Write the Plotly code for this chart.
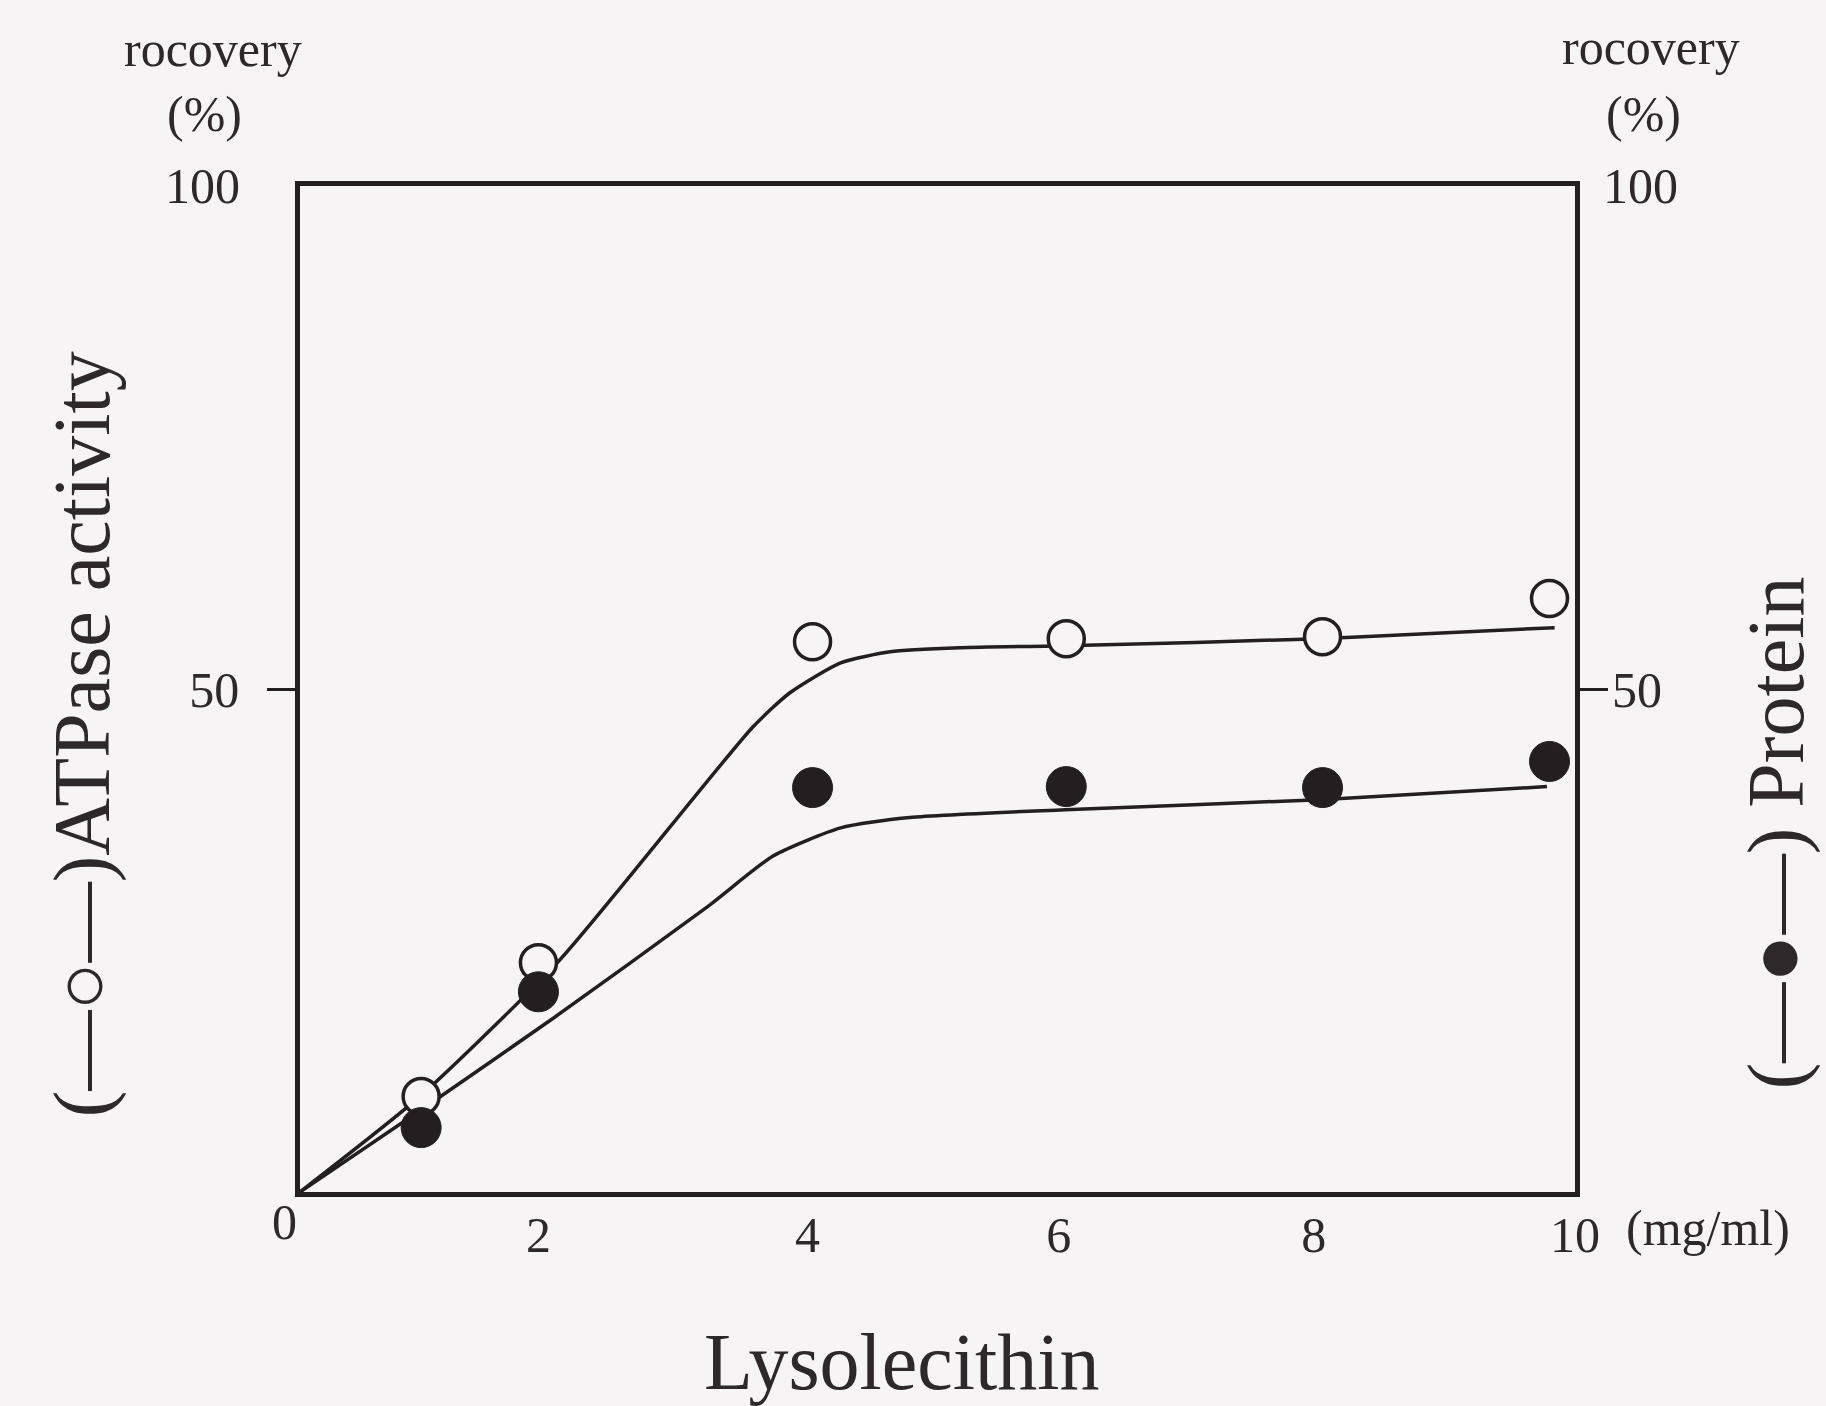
import plotly.graph_objects as go

# Lysolecithin concentration (mg/ml) at which each sample was measured
lyso_conc = [0.95, 1.87, 4.02, 6.01, 8.02, 9.80]
# Recovery (%) of ATPase activity (open circles) and of protein (filled circles)
atpase_recovery = [9.5, 22.8, 54.7, 55.0, 55.2, 59.0]
protein_recovery = [6.4, 19.9, 40.2, 40.3, 40.2, 42.8]

# Hand-drawn fitted curves through the data
atpase_fit_x = [0, 0.95, 2.04, 3.55, 3.84, 4.24, 4.63, 5.18, 6.0, 8.0, 9.84]
atpase_fit_y = [0, 9.6, 23.1, 46.2, 49.6, 52.6, 53.7, 54.1, 54.3, 55.0, 56.1]
protein_fit_x = [0, 1.0, 2.0, 3.2, 3.71, 4.24, 4.76, 6.0, 8.0, 9.78]
protein_fit_y = [0, 8.6, 17.4, 28.4, 33.4, 36.2, 37.2, 38.0, 39.0, 40.3]

# Axis tick positions and labels (the origin label is placed separately)
x_tickvals = [1.87, 3.98, 5.95, 7.95, 10]
x_ticktext = ["2", "4", "6", "8", "10"]
y_tickvals = [50]
y_ticktext = ["50"]

BG = "#f6f4f5"
INK = "#241e20"
TXT = "#2f282b"
FONT = "Liberation Serif"

fig = go.Figure()

for fx, fy in ((atpase_fit_x, atpase_fit_y), (protein_fit_x, protein_fit_y)):
    fig.add_trace(go.Scatter(
        x=fx, y=fy, mode="lines",
        line=dict(color=INK, width=3.5, shape="spline", smoothing=0.6),
        hoverinfo="skip", showlegend=False))

fig.add_trace(go.Scatter(
    x=lyso_conc, y=atpase_recovery, mode="markers", name="ATPase activity",
    marker=dict(symbol="circle", size=36, color=BG,
                line=dict(color=INK, width=3.5)),
    showlegend=False))
fig.add_trace(go.Scatter(
    x=lyso_conc, y=protein_recovery, mode="markers", name="Protein",
    marker=dict(symbol="circle", size=40, color=INK,
                line=dict(color=INK, width=1)),
    showlegend=False))

tick_font = dict(family=FONT, size=50, color=TXT)
title_font = dict(family=FONT, size=80, color=TXT)

fig.update_layout(
    width=1826, height=1406,
    margin=dict(l=300, r=251, t=186, b=214),
    paper_bgcolor=BG, plot_bgcolor=BG,
    showlegend=False,
    xaxis=dict(range=[0, 10], showgrid=False, zeroline=False,
               showline=True, linecolor=INK, linewidth=4.5, mirror=True,
               tickvals=x_tickvals, ticktext=x_ticktext, ticks="",
               tickfont=tick_font, ticklabelstandoff=-5),
    yaxis=dict(range=[0, 100], showgrid=False, zeroline=False,
               showline=True, linecolor=INK, linewidth=4.5, mirror=True,
               tickvals=y_tickvals, ticktext=y_ticktext,
               ticks="outside", ticklen=28, tickwidth=3, tickcolor=INK,
               tickfont=tick_font, ticklabelstandoff=18),
    yaxis2=dict(range=[0, 100], overlaying="y", side="right",
                showgrid=False, zeroline=False, showline=False,
                tickvals=y_tickvals, ticktext=y_ticktext,
                ticks="outside", ticklen=32, tickwidth=3, tickcolor=INK,
                tickfont=tick_font, ticklabelstandoff=-6),
)

# invisible trace to activate the right-hand axis
fig.add_trace(go.Scatter(x=[None], y=[None], yaxis="y2", showlegend=False))

ann = []
def txt(text, x, y, font, xanchor="center", yanchor="middle", yref="paper", angle=0):
    ann.append(dict(text=text, x=x, y=y, xref="paper", yref=yref,
                    xanchor=xanchor, yanchor=yanchor, showarrow=False,
                    font=font, textangle=angle))

# origin, top-of-scale labels and units
txt("0", -0.012, -0.030, tick_font)
txt("100", -0.0455, 100, tick_font, xanchor="right", yref="y")
txt("100", 1.0204, 100, tick_font, xanchor="left", yref="y")
txt("rocovery", -0.068, 1.136, tick_font)
txt("(%)", -0.075, 1.0716, tick_font)
txt("rocovery", 1.0596, 1.138, tick_font)
txt("(%)", 1.054, 1.0716, tick_font)
txt("(mg/ml)", 1.104, -0.036, tick_font)

# axis titles
txt("Lysolecithin", 0.472, -0.169, title_font)
txt("(—○—)ATPase activity", -0.171, 0.455, title_font, angle=-90)
txt("(—●—) Protein", 1.158, 0.357, title_font, angle=-90)

fig.update_layout(annotations=ann)

fig.write_html("out.html")
